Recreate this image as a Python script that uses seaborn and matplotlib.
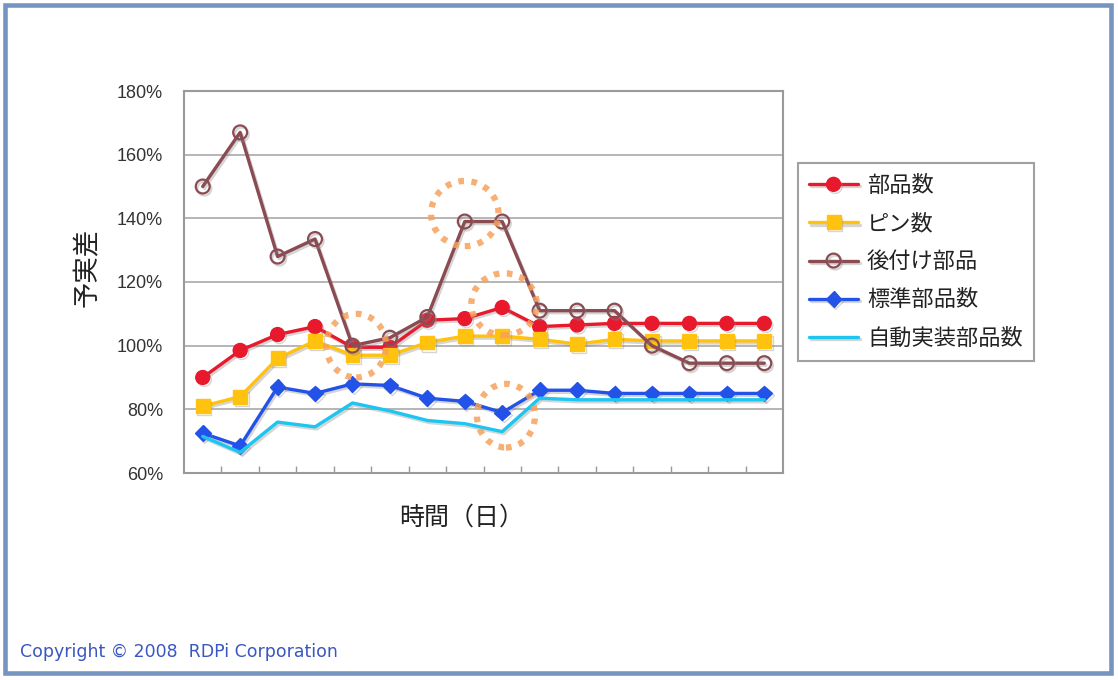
import numpy as np
import pandas as pd
import matplotlib
matplotlib.use("Agg")
import matplotlib.pyplot as plt
import matplotlib.patheffects as pe
from matplotlib.patches import Ellipse, Rectangle
import seaborn as sns

# ---- data -------------------------------------------------------------
days = list(range(1, 17))
buhin = [90, 98.5, 103.5, 106, 99.5, 99.5, 108, 108.5, 112, 106, 106.5, 107, 107, 107, 107, 107]
pin = [81, 84, 96, 101.5, 97, 97, 101, 103, 103, 102, 100.5, 102, 101.5, 101.5, 101.5, 101.5]
atozuke = [150, 167, 128, 133.5, 100, 102.5, 109, 139, 139, 111, 111, 111, 100, 94.5, 94.5, 94.5]
hyojun = [72.5, 68.5, 87, 85, 88, 87.5, 83.5, 82.5, 79, 86, 86, 85, 85, 85, 85, 85]
jido = [71.5, 66.5, 76, 74.5, 82, 79.5, 76.5, 75.5, 73, 83.5, 83, 83, 83, 83, 83, 83]
series_names = ["部品数", "ピン数", "後付け部品", "標準部品数", "自動実装部品数"]
yticks = [60, 80, 100, 120, 140, 160, 180]
# highlighted spots: (day, value, width in days, height in %)
highlights = [(5.1, 100, 1.6, 20), (8.0, 141.5, 1.8, 20.5), (9.05, 113, 1.75, 19.5), (9.1, 78, 1.55, 20)]

values = [buhin, pin, atozuke, hyojun, jido]
df = pd.DataFrame({"day": days * 5,
                   "value": sum(values, []),
                   "series": [n for n in series_names for _ in days]})

sns.set_theme(style="white")
plt.rcParams["font.family"] = ["Noto Sans CJK JP", "DejaVu Sans"]

W, H = 1118, 680
fig = plt.figure(figsize=(W / 100, H / 100), dpi=100)
fig.patch.set_facecolor("white")
ax = fig.add_axes([184 / W, 1 - 473 / H, (783 - 184) / W, (473 - 91) / H])

styles = {
    "部品数": dict(color="#E8192C", marker="o", markersize=10, mfc="#E8192C", mec="#E8192C"),
    "ピン数": dict(color="#FFC20E", marker="s", markersize=10, mfc="#FFC20E", mec="#FFC20E"),
    "後付け部品": dict(color="#8A4B53", marker="o", markersize=10, mfc="none", mec="#8A4B53", mew=1.6),
    "標準部品数": dict(color="#2352E8", marker="D", markersize=8, mfc="#2352E8", mec="#2352E8"),
    "自動実装部品数": dict(color="#1CC6F0", marker=None),
}
shadow = [pe.SimpleLineShadow(offset=(1.2, -1.5), shadow_color="#888888", alpha=0.35), pe.Normal()]

for name in series_names:
    st = styles[name]
    sub = df[df["series"] == name]
    kw = dict(color=st["color"], linewidth=2.4, label=name)
    if st["marker"]:
        kw.update(marker=st["marker"], markersize=st["markersize"],
                  markerfacecolor=st["mfc"], markeredgecolor=st["mec"],
                  markeredgewidth=st.get("mew", 1.0))
    sns.lineplot(data=sub, x="day", y="value", ax=ax, legend=False, **kw)
    ax.lines[-1].set_path_effects(shadow)
    ax.lines[-1].set_label(name)

for (cx, cy, w, h) in highlights:
    ax.add_patch(Ellipse((cx, cy), w, h, fill=False, edgecolor="#F6A15A",
                         linewidth=4.5, linestyle=(0, (0.9, 1.2)), alpha=0.85, zorder=5))

ax.set_xlim(days[0] - 0.5, days[-1] + 0.5)
ax.set_ylim(yticks[0], yticks[-1])
ax.set_yticks(yticks)
ax.set_yticklabels([f"{t}%" for t in yticks], fontsize=13, color="#333333",
                   family=["Liberation Sans Narrow", "Liberation Sans", "DejaVu Sans"])
ax.set_xticks([d + 0.5 for d in days[:-1]])
ax.set_xticklabels([])
ax.tick_params(axis="x", direction="in", length=5, color="#999999", width=1, bottom=True)
ax.tick_params(axis="y", length=0, pad=15)
ax.grid(axis="y", color="#B5B5B5", linewidth=1.4)
ax.set_axisbelow(True)
for s in ax.spines.values():
    s.set_color("#9A9A9A")
    s.set_linewidth(1.5)
ax.set_xlabel("")
ax.set_ylabel("")

fig.text(87 / W, 1 - 267 / H, "予実差", rotation=90, ha="center", va="center",
         fontsize=19, color="#222222")
fig.text(462 / W, 1 - 518 / H, "時間（日）", ha="center", va="center",
         fontsize=18, color="#222222")

leg = fig.legend(handles=ax.lines[:5], labels=series_names, loc="upper left",
                 bbox_to_anchor=(798 / W, 1 - 163 / H), bbox_transform=fig.transFigure,
                 fontsize=16, frameon=True, fancybox=False, borderaxespad=0,
                 handlelength=2.2, labelspacing=0.68, borderpad=0.5, handletextpad=0.4)
leg.get_frame().set_edgecolor("#8A8A8A")
leg.get_frame().set_linewidth(1.5)
for t in leg.get_texts():
    t.set_color("#222222")

fig.text(20 / W, 1 - 652 / H, "Copyright © 2008  RDPi Corporation", ha="left", va="center",
         fontsize=12.5, color="#3A56C2", family=["DejaVu Sans"])

fig.add_artist(Rectangle((5 / W, 1 - 673 / H), (1110.5 - 5) / W, (673 - 5.3) / H,
                         transform=fig.transFigure, fill=False, edgecolor="#7594C0",
                         linewidth=3.3))

fig.savefig("out.png", dpi=100)
